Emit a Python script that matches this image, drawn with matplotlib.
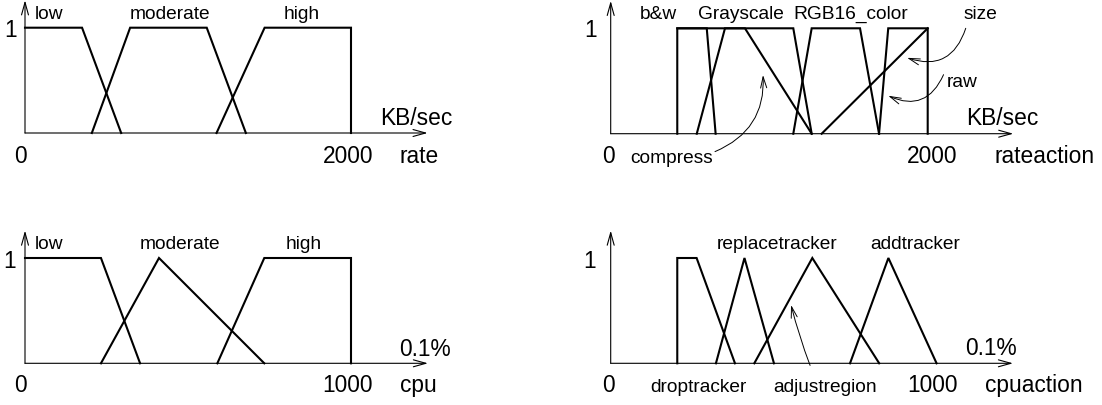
import matplotlib.pyplot as plt

plt.rcParams['font.family'] = ['Liberation Sans', 'DejaVu Sans']

# fuzzy sets: breakpoints (x) and membership grades (mu)
rate_sets = {
    'low':      ([0, 350, 590], [1, 1, 0]),
    'moderate': ([410, 645, 1115, 1355], [0, 1, 1, 0]),
    'high':     ([1175, 1470, 2000, 2000], [0, 1, 1, 0]),
}
rateaction_sets = {
    'b&w':         ([420, 420, 606, 662], [0, 1, 1, 0]),
    'Grayscale':   ([543, 721, 1152, 1268], [0, 1, 1, 0]),
    'compress':    ([420, 847, 1268], [1, 1, 0]),
    'RGB16_color': ([1152, 1268, 1573, 1693], [0, 1, 1, 0]),
    'raw':         ([1693, 1751, 2000, 2000], [0, 1, 1, 0]),
    'size':        ([1331, 2000], [0, 1]),
}
cpu_sets = {
    'low':      ([0, 233, 353], [1, 1, 0]),
    'moderate': ([233, 411, 734], [0, 1, 0]),
    'high':     ([590, 734, 1000, 1000], [0, 1, 1, 0]),
}
cpuaction_sets = {
    'droptracker':    ([210, 210, 271, 392], [0, 1, 1, 0]),
    'replacetracker': ([332, 422, 515], [0, 1, 0]),
    'adjustregion':   ([453, 636, 847], [0, 1, 0]),
    'addtracker':     ([755, 876, 1028], [0, 1, 0]),
}

W, H = 1102, 406
fig = plt.figure(figsize=(W / 100, H / 100), dpi=100)

SMALL = 13.8
BIG = 16.4
arrow_style = '->,head_length=0.9,head_width=0.25'


def make_panel(ox, base, width, xmax, sets, xarrow, yarrow=1.26, height=105.3):
    ax = fig.add_axes([ox / W, 1 - base / H, width / W, height / H])
    ax.set_xlim(0, xmax)
    ax.set_ylim(0, 1)
    ax.axis('off')
    for xs, mus in sets.values():
        ax.plot(xs, mus, color='black', lw=1.5, solid_joinstyle='miter',
                clip_on=False)
    for end in [(xarrow, 0), (0, yarrow)]:
        ax.annotate('', xy=end, xytext=(0, 0), annotation_clip=False,
                    arrowprops=dict(arrowstyle=arrow_style, lw=0.8, color='black',
                                    shrinkA=0, shrinkB=0))
    return ax


def label(ax, x, y, s, size=SMALL, ha='left'):
    ax.text(x, y, s, fontsize=size, ha=ha, va='baseline', clip_on=False)


def pointer(ax, text_xy, tip_xy, rad):
    ax.annotate('', xy=tip_xy, xytext=text_xy, annotation_clip=False,
                arrowprops=dict(arrowstyle='->,head_length=0.8,head_width=0.22',
                                lw=0.7, color='black', shrinkA=0, shrinkB=0,
                                connectionstyle=f'arc3,rad={rad}'))


# rate
ax = make_panel(25, 134, 326, 2000, rate_sets, 2470)
label(ax, 61, 1.089, 'low')
label(ax, 644, 1.089, 'moderate')
label(ax, 1589, 1.089, 'high')
label(ax, -50, 0.921, '1', BIG, 'right')
label(ax, 2180, 0.086, 'KB/sec', BIG)
label(ax, -30, -0.276, '0', BIG, 'center')
label(ax, 1980, -0.276, '2000', BIG, 'center')
label(ax, 2300, -0.276, 'rate', BIG)

# rateaction
ax = make_panel(610.7, 134.7, 317, 2000, rateaction_sets, 2540, height=105.4)
label(ax, 185, 1.095, 'b&w')
label(ax, 551, 1.095, 'Grayscale')
label(ax, 1150, 1.095, 'RGB16_color')
label(ax, 2223, 1.095, 'size')
label(ax, 2122, 0.45, 'raw')
label(ax, -90, 0.924, '1', BIG, 'right')
label(ax, 2240, 0.092, 'KB/sec', BIG)
label(ax, -17, -0.271, '0', BIG, 'center')
label(ax, 122, -0.271, 'compress')
label(ax, 2030, -0.271, '2000', BIG, 'center')
label(ax, 2420, -0.271, 'rateaction', BIG)
pointer(ax, (658, -0.17), (961, 0.557), 0.35)
pointer(ax, (2240, 1.0), (1870, 0.72), -0.5)
pointer(ax, (2100, 0.56), (1751, 0.36), -0.5)

# cpu
ax = make_panel(25, 364.3, 326, 1000, cpu_sets, 1236)
label(ax, 31, 1.092, 'low')
label(ax, 353, 1.092, 'moderate')
label(ax, 798, 1.092, 'high')
label(ax, -28, 0.912, '1', BIG, 'right')
label(ax, 1148, 0.079, '0.1%', BIG)
label(ax, -15, -0.26, '0', BIG, 'center')
label(ax, 990, -0.26, '1000', BIG, 'center')
label(ax, 1150, -0.26, 'cpu', BIG)

# cpuaction
ax = make_panel(610.7, 364.3, 317, 1000, cpuaction_sets, 1269)
label(ax, 335, 1.092, 'replacetracker')
label(ax, 818, 1.092, 'addtracker')
label(ax, 124, -0.26, 'droptracker')
label(ax, 512, -0.26, 'adjustregion')
label(ax, -46, 0.912, '1', BIG, 'right')
label(ax, 1117, 0.088, '0.1%', BIG)
label(ax, -8, -0.26, '0', BIG, 'center')
label(ax, 1015, -0.26, '1000', BIG, 'center')
label(ax, 1180, -0.26, 'cpuaction', BIG)
pointer(ax, (629, -0.02), (569, 0.554), -0.03)

fig.savefig('out.png', dpi=100)
